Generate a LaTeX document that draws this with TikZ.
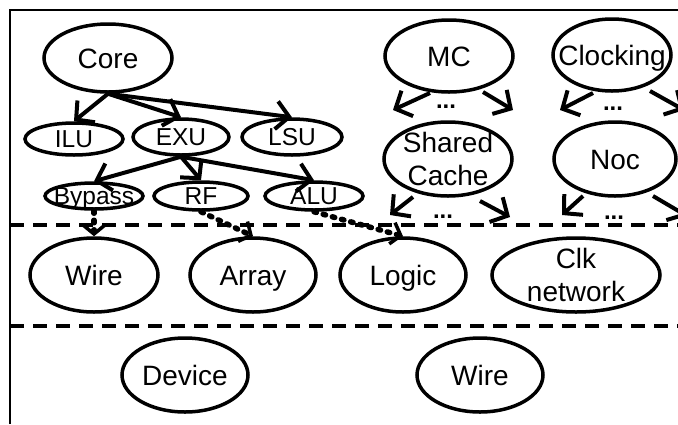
\documentclass[tikz,border=0pt]{standalone}
\usepackage{fontspec}
\setmainfont{Liberation Sans}
\usetikzlibrary{shapes.geometric,arrows.meta}

\tikzset{
  oval/.style={ellipse, draw, line width=3.5pt, inner sep=0pt},
  bigtxt/.style={font=\fontsize{28}{33}\selectfont, inner sep=0pt,
    text height=20pt, text depth=0pt},
  twoline/.style={font=\fontsize{28}{33}\selectfont, inner sep=0pt, align=center},
  smalltxt/.style={font=\fontsize{24.5}{28}\selectfont, inner sep=0pt,
    text height=17.6pt, text depth=0pt},
  dots/.style={font=\fontsize{24}{28}\selectfont\bfseries, inner sep=0pt},
  solidarrow/.style={line width=4pt, -{Straight Barb[length=13pt,width=28pt]}},
  dotarrow/.style={line width=5.5pt, line cap=round, dash pattern=on 2.5pt off 7pt,
    -{Straight Barb[length=9pt,width=22pt,line width=3.5pt,line cap=butt]}},
  layerline/.style={line width=4.5pt, dash pattern=on 14pt off 9pt},
}

\begin{document}
\begin{tikzpicture}[x=1pt,y=-1pt]
\useasboundingbox (0,0) rectangle (678,424);

% frame (open to the right and below)
\draw[line width=2pt] (10,424) -- (10,10) -- (678,10);

% layer separators
\coordinate (sepAL) at (10,225);
\coordinate (sepAR) at (678,225);
\coordinate (sepBL) at (10,326);
\coordinate (sepBR) at (678,326);
\draw[layerline] (sepAL) -- (sepAR);
\draw[layerline] (sepBL) -- (sepBR);

% core hierarchy
\node[oval, minimum width=128pt, minimum height=68pt, label={[bigtxt]center:Core}] (core) at (108,58) {};
\node[oval, minimum width=98pt, minimum height=32pt, label={[smalltxt]center:ILU}] (ilu) at (74,139) {};
\node[oval, minimum width=96pt, minimum height=36pt, label={[smalltxt]center:EXU}] (exu) at (181,137) {};
\node[oval, minimum width=100pt, minimum height=36pt, label={[smalltxt]center:LSU}] (lsu) at (292,137) {};
\node[oval, minimum width=98pt, minimum height=26pt, label={[smalltxt]center:Bypass}] (bypass) at (94,196) {};
\node[oval, minimum width=94pt, minimum height=28pt, label={[smalltxt]center:RF}] (rf) at (201,196) {};
\node[oval, minimum width=98pt, minimum height=28pt, label={[smalltxt]center:ALU}] (alu) at (314,196) {};

% uncore blocks
\node[oval, minimum width=128pt, minimum height=72pt, label={[bigtxt]center:MC}] (mc) at (449,56) {};
\node[oval, minimum width=118pt, minimum height=72pt, label={[bigtxt]center:Clocking}] (clocking) at (612,55) {};
\node[oval, minimum width=128pt, minimum height=74pt, label={[twoline]center:Shared\\Cache}] (shared) at (448,159) {};
\node[oval, minimum width=122pt, minimum height=74pt, label={[bigtxt]center:Noc}] (noc) at (615,159) {};

% circuit layer
\node[oval, minimum width=128pt, minimum height=74pt, label={[bigtxt]center:Wire}] (wire) at (94,275) {};
\node[oval, minimum width=126pt, minimum height=74pt, label={[bigtxt]center:Array}] (array) at (253,275) {};
\node[oval, minimum width=126pt, minimum height=74pt, label={[bigtxt]center:Logic}] (logic) at (403,275) {};
\node[oval, minimum width=168pt, minimum height=74pt, label={[twoline]center:Clk\\network}] (clknet) at (576,275) {};

% device layer
\node[oval, minimum width=126pt, minimum height=74pt, label={[bigtxt]center:Device}] (device) at (185,375) {};
\node[oval, minimum width=126pt, minimum height=74pt, label={[bigtxt]center:Wire}] (wire2) at (480,375) {};

% tree edges
\draw[solidarrow] (core.south) -- (ilu.north);
\draw[solidarrow] (core.south) -- (exu.north);
\draw[solidarrow] (core.south) -- (lsu.north);
\draw[solidarrow] (exu.south) -- (bypass.north);
\draw[solidarrow] (exu.south) -- (rf.north);
\draw[solidarrow] (exu.south) -- (alu.north);

% mapping to circuit layer
\draw[dotarrow] (bypass.south) -- (wire.north);
\draw[dotarrow] (rf.south) -- (array.north);
\draw[dotarrow] (alu.south) -- (logic.north);

% elided fan-out below the uncore blocks
\coordinate (mcLa) at (430,93);  \coordinate (mcLb) at (393,110);
\coordinate (mcRa) at (483,92);  \coordinate (mcRb) at (513,110);
\coordinate (ckLa) at (593,93);  \coordinate (ckLb) at (560,110);
\coordinate (ckRa) at (650,91);  \coordinate (ckRb) at (684,110);
\coordinate (scLa) at (413,197); \coordinate (scLb) at (390,215);
\coordinate (scRa) at (480,201); \coordinate (scRb) at (510,217);
\coordinate (ncLa) at (583,196); \coordinate (ncLb) at (562,215);
\coordinate (ncRa) at (653,196); \coordinate (ncRb) at (687,216);
\draw[solidarrow] (mcLa) -- (mcLb);
\draw[solidarrow] (mcRa) -- (mcRb);
\draw[solidarrow] (ckLa) -- (ckLb);
\draw[solidarrow] (ckRa) -- (ckRb);
\draw[solidarrow] (scLa) -- (scLb);
\draw[solidarrow] (scRa) -- (scRb);
\draw[solidarrow] (ncLa) -- (ncLb);
\draw[solidarrow] (ncRa) -- (ncRb);
\node[dots] (mcdots) at (446,107) {...};
\node[dots] (ckdots) at (613,109) {...};
\node[dots] (scdots) at (443,217) {...};
\node[dots] (ncdots) at (614,218) {...};
\end{tikzpicture}
\end{document}
